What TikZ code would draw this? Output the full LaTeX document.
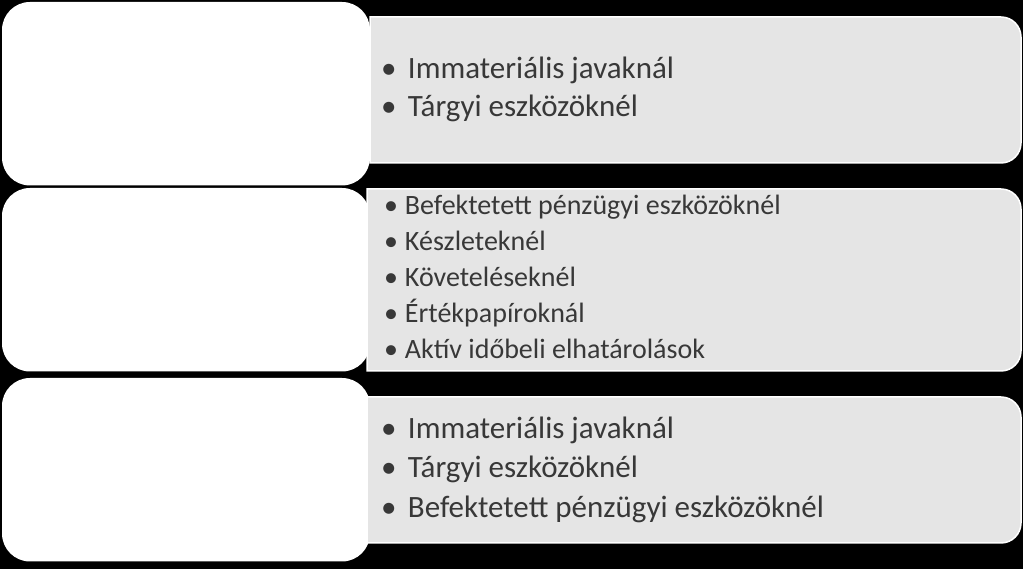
\documentclass[tikz,border=0pt]{standalone}
\usepackage{fontspec}
\setmainfont{Carlito}
\usepackage{tikz}
\usetikzlibrary{positioning, calc}
\definecolor{panelgrey}{rgb}{0.9, 0.9, 0.9}
\definecolor{itemgrey}{rgb}{0.22, 0.22, 0.22}
\newcommand{\bul}[1]{\makebox[#1pt][l]{\textbullet}}

\begin{document}
\begin{tikzpicture}[x=1pt, y=1pt, every node/.style={inner sep=0pt, outer sep=0pt},
	headbox/.style={fill=white, rounded corners=28pt, minimum width=368pt, minimum height=183.5pt, anchor=north west},
	panel/.style={fill=panelgrey, draw=white, line width=1.5pt},
	bigitem/.style={anchor=base west, text=itemgrey, font=\fontsize{31}{31}\selectfont},
	smallitem/.style={anchor=base west, text=itemgrey, font=\fontsize{28}{28}\selectfont}]
				\pgfmathsetmacro{\rad}{20}
				\fill[black] (0,0) rectangle (1023,569);
				\useasboundingbox (0,0) rectangle (1023,569);
				
				\node[headbox] (head1) at (2,567) {};
				\node[headbox] (head2) at (2,381) {};
				\node[headbox] (head3) at (2,191) {};
				
				\draw[panel] (370,552) -- ++(631,0) arc[start angle=90, end angle=0, radius=\rad] -- ++(0,-106) arc[start angle=0, end angle=-90, radius=\rad] -- ++(-631,0) -- cycle;
				\draw[panel] (367,380) -- ++(634,0) arc[start angle=90, end angle=0, radius=\rad] -- ++(0,-142) arc[start angle=0, end angle=-90, radius=\rad] -- ++(-634,0) -- cycle;
				\draw[panel] (367,172) -- ++(634,0) arc[start angle=90, end angle=0, radius=\rad] -- ++(0,-106) arc[start angle=0, end angle=-90, radius=\rad] -- ++(-634,0) -- cycle;
				
				\node[bigitem] (imm1) at (381,490) {\bul{27}Immateriális javaknál};
				\node[bigitem] (targy1) at (381,452) {\bul{27}Tárgyi eszközöknél};
				
				\node[smallitem] (befekt2) at (384,354) {\bul{21}Befektetett pénzügyi eszközöknél};
				\node[smallitem] (keszlet2) at (384,318) {\bul{21}Készleteknél};
				\node[smallitem] (kovet2) at (384,282) {\bul{21}Követeléseknél};
				\node[smallitem] (ertek2) at (384,246) {\bul{21}Értékpapíroknál};
				\node[smallitem] (aktiv2) at (384,210) {\bul{21}Aktív időbeli elhatárolások};
				
				\node[bigitem] (imm3) at (381,130) {\bul{27}Immateriális javaknál};
				\node[bigitem] (targy3) at (381,91) {\bul{27}Tárgyi eszközöknél};
				\node[bigitem] (befekt3) at (381,51) {\bul{27}Befektetett pénzügyi eszközöknél};
				\end{tikzpicture}
\end{document}
